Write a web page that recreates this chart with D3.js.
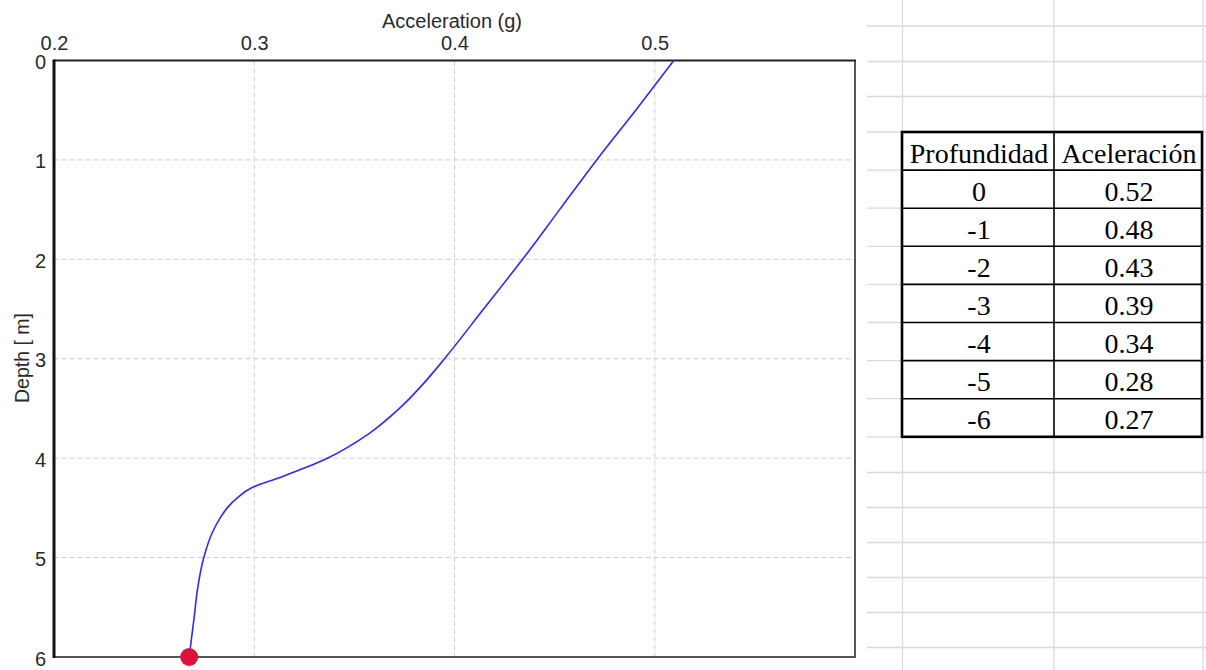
<!DOCTYPE html>
<html>
<head>
<meta charset="utf-8">
<script src="https://cdn.jsdelivr.net/npm/d3@7"></script>
<style>
  html, body { margin: 0; padding: 0; background: #fff; }
  svg { display: block; }
</style>
</head>
<body>
<svg id="chart" width="1206" height="670"></svg>
<script>
// ---- data ----
const curveDepth = [0, 0.5, 1.0, 1.5, 2.0, 2.5, 3.0, 3.25, 3.5, 3.75, 4.0, 4.1, 4.2, 4.3, 4.4, 4.5, 4.6, 4.75, 5.0, 5.3, 5.6, 6.0];
const curveAccel = [0.5095, 0.4905, 0.471, 0.4525, 0.434, 0.4145, 0.395, 0.3845, 0.3725, 0.3575, 0.3365, 0.325, 0.312, 0.2985, 0.2915, 0.2865, 0.283, 0.279, 0.2748, 0.2718, 0.2700, 0.2675];
const markerDepth = [6];
const markerAccel = [0.2675];
const xTicks = [0.2, 0.3, 0.4, 0.5];
const xGrid = [0.3, 0.4, 0.5];
const yTicks = [0, 1, 2, 3, 4, 5, 6];
const yGrid = [1, 2, 3, 4, 5];
const xTitle = "Acceleration (g)";
const yTitle = "Depth [ m]";
const tableHeaders = ["Profundidad", "Aceleración"];
const tableDepth = ["0", "-1", "-2", "-3", "-4", "-5", "-6"];
const tableAccel = ["0.52", "0.48", "0.43", "0.39", "0.34", "0.28", "0.27"];

// ---- layout ----
const svg = d3.select("#chart");
const plot = { left: 54, top: 60.5, right: 855, bottom: 657 };
const x = d3.scaleLinear().domain([0.2, 0.6]).range([plot.left, plot.right]);
const y = d3.scaleLinear().domain([0, 6]).range([plot.top, plot.bottom]);
const tickFont = "'Liberation Sans', Arial, sans-serif";
const textColor = "#2b2b2b";

// ---- spreadsheet background (right side) ----
const sheet = svg.append("g").attr("class", "sheet");
const sheetRowsY = [26, 61.5, 96.5, 132, 170.1, 208.2, 246.3, 284.4, 322.5, 360.6, 398.7, 436.8, 472.5, 507.5, 542.5, 577.5, 612.5, 647.5];
const sheetColsX = [902.5, 1054, 1203];
sheet.selectAll("line.h").data(sheetRowsY).join("line")
  .attr("x1", 867).attr("x2", 1206)
  .attr("y1", d => d).attr("y2", d => d)
  .attr("stroke", "#dadada").attr("stroke-width", 1.3);
sheet.selectAll("line.v").data(sheetColsX).join("line")
  .attr("x1", d => d).attr("x2", d => d)
  .attr("y1", 0).attr("y2", 670)
  .attr("stroke", "#dadada").attr("stroke-width", 1.3);

// ---- table ----
const tbl = svg.append("g").attr("class", "table");
const tX = [902, 1054, 1202];
const rowH = 38.1, tTop = 132;
const nRows = tableDepth.length + 1;
tbl.append("rect").attr("x", tX[0]).attr("y", tTop).attr("width", tX[2] - tX[0]).attr("height", rowH * nRows)
  .attr("fill", "#fff");
d3.range(1, nRows).forEach(i => {
  tbl.append("line").attr("x1", tX[0]).attr("x2", tX[2])
    .attr("y1", tTop + i * rowH).attr("y2", tTop + i * rowH)
    .attr("stroke", "#000").attr("stroke-width", 1.6);
});
tbl.append("line").attr("x1", tX[1]).attr("x2", tX[1]).attr("y1", tTop).attr("y2", tTop + rowH * nRows)
  .attr("stroke", "#000").attr("stroke-width", 1.6);
tbl.append("rect").attr("x", tX[0]).attr("y", tTop).attr("width", tX[2] - tX[0]).attr("height", rowH * nRows)
  .attr("fill", "none").attr("stroke", "#000").attr("stroke-width", 2.6);
const serif = "'Liberation Serif', 'Times New Roman', serif";
const rows = [tableHeaders].concat(tableDepth.map((d, i) => [d, tableAccel[i]]));
rows.forEach((r, i) => {
  r.forEach((txt, j) => {
    tbl.append("text")
      .attr("x", (tX[j] + tX[j + 1]) / 2 + 1)
      .attr("y", tTop + i * rowH + 30.5)
      .attr("text-anchor", "middle")
      .attr("font-family", serif)
      .attr("font-size", 28)
      .attr("fill", "#000")
      .text(txt);
  });
});

// ---- chart ----
const g = svg.append("g").attr("class", "plot");
g.selectAll("line.gx").data(xGrid).join("line")
  .attr("x1", d => x(d)).attr("x2", d => x(d))
  .attr("y1", plot.top).attr("y2", plot.bottom)
  .attr("stroke", "#cfcfcf").attr("stroke-width", 1).attr("stroke-dasharray", "5,3");
g.selectAll("line.gy").data(yGrid).join("line")
  .attr("x1", plot.left).attr("x2", plot.right)
  .attr("y1", d => y(d)).attr("y2", d => y(d))
  .attr("stroke", "#cfcfcf").attr("stroke-width", 1).attr("stroke-dasharray", "5,3");

g.append("line").attr("x1", plot.right).attr("x2", plot.right).attr("y1", plot.top).attr("y2", plot.bottom)
  .attr("stroke", "#555").attr("stroke-width", 2);
g.append("line").attr("x1", plot.left).attr("x2", plot.right + 1).attr("y1", plot.bottom).attr("y2", plot.bottom)
  .attr("stroke", "#555").attr("stroke-width", 2);
g.append("line").attr("x1", plot.left).attr("x2", plot.right + 1).attr("y1", plot.top).attr("y2", plot.top)
  .attr("stroke", "#222").attr("stroke-width", 2.2);
g.append("line").attr("x1", plot.left).attr("x2", plot.left).attr("y1", plot.top - 1).attr("y2", plot.bottom + 1)
  .attr("stroke", "#111").attr("stroke-width", 3);

const xAxis = d3.axisTop(x).tickValues(xTicks).tickSize(0).tickPadding(11).tickFormat(d3.format(".1f"));
const xg = svg.append("g").attr("transform", `translate(0,${plot.top})`).call(xAxis);
xg.select(".domain").remove();
xg.selectAll("text").attr("font-family", tickFont).attr("font-size", 20).attr("fill", textColor);

const yAxis = d3.axisLeft(y).tickValues(yTicks).tickSize(0).tickPadding(8).tickFormat(d3.format("d"));
const yg = svg.append("g").attr("transform", `translate(${plot.left},0)`).call(yAxis);
yg.select(".domain").remove();
yg.selectAll("text").attr("font-family", tickFont).attr("font-size", 20).attr("fill", textColor).attr("dy", "0.4em");

svg.append("text").attr("x", 452).attr("y", 28).attr("text-anchor", "middle")
  .attr("font-family", tickFont).attr("font-size", 20).attr("fill", textColor).text(xTitle);
svg.append("text").attr("transform", "translate(29,358) rotate(-90)").attr("text-anchor", "middle")
  .attr("font-family", tickFont).attr("font-size", 19.5).attr("fill", textColor).text(yTitle);

// curve
const pts = curveDepth.map((d, i) => ({ d, a: curveAccel[i] }));
const line = d3.line().x(p => x(p.a)).y(p => y(p.d)).curve(d3.curveMonotoneY);
g.append("path").datum(pts).attr("d", line)
  .attr("fill", "none").attr("stroke", "#2a2aff").attr("stroke-width", 1.6);

// marker
g.selectAll("circle.m").data(markerDepth.map((d, i) => ({ d, a: markerAccel[i] }))).join("circle")
  .attr("cx", p => x(p.a)).attr("cy", p => y(p.d)).attr("r", 9)
  .attr("fill", "#dc143c");
</script>
</body>
</html>
